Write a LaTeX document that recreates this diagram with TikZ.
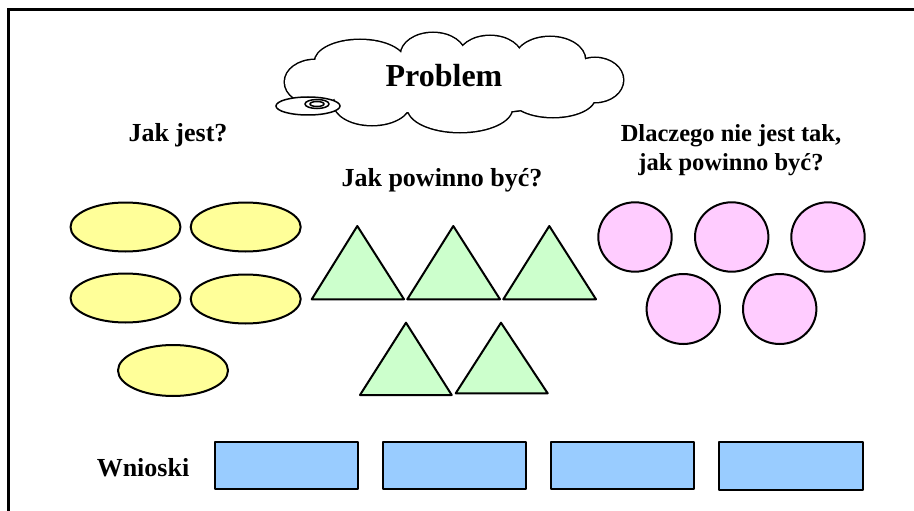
\documentclass[tikz,border=0pt]{standalone}
\usepackage{fontspec}
\setmainfont{Liberation Serif}
\usetikzlibrary{shapes.symbols,shapes.geometric}
\definecolor{ellfill}{HTML}{FFFF99}
\definecolor{trifill}{HTML}{CCFFCC}
\definecolor{circfill}{HTML}{FFCCFF}
\definecolor{recfill}{HTML}{99CCFF}
\tikzset{
  shapeline/.style={draw=black, line width=2pt, line join=round},
  ellshape/.style={shapeline, fill=ellfill},
  trishape/.style={shapeline, fill=trifill},
  circshape/.style={shapeline, fill=circfill},
  recshape/.style={shapeline, fill=recfill},
  lbl/.style={font=\bfseries\fontsize{26}{30}\selectfont, anchor=base, inner sep=0pt},
}
\newcommand{\cloudlobes}{%
  (315,82) ellipse [x radius=30, y radius=22]
  (360,62) ellipse [x radius=45, y radius=22]
  (433,55) ellipse [x radius=32, y radius=22]
  (490,58) ellipse [x radius=32, y radius=22]
  (550,60) ellipse [x radius=35, y radius=23]
  (595,80) ellipse [x radius=28, y radius=22]
  (553,97) ellipse [x radius=42, y radius=20]
  (460,108) ellipse [x radius=52, y radius=24]
  (372,103) ellipse [x radius=38, y radius=22]
  (455,82) ellipse [x radius=135, y radius=32]}
\begin{document}
\begin{tikzpicture}[x=1pt,y=-1pt]
\useasboundingbox (0,0) rectangle (914,511);
% frame
\draw[line width=3pt] (8,511) -- (8,10) -- (914,10);
% cloud (union of lobes)
\draw[line width=3pt] \cloudlobes;
\fill[white] \cloudlobes;
\draw[line width=1.5pt, fill=white] (308,106) ellipse [x radius=32, y radius=9];
\draw[line width=1.5pt] (317,104) ellipse [x radius=12, y radius=4.5];
\draw[line width=1.5pt] (317,104) ellipse [x radius=7, y radius=2.5];
\node[font=\bfseries\fontsize{32}{36}\selectfont, anchor=base, inner sep=0pt] (problem) at (444,87) {Problem};
% labels
\node[lbl] (jakjest) at (178,141.7) {Jak jest?};
\node[lbl] (jakpow) at (442,186.7) {Jak powinno być?};
\node[lbl, font=\bfseries\fontsize{24.5}{28}\selectfont] (dlacz1) at (731,141) {Dlaczego nie jest tak,};
\node[lbl, font=\bfseries\fontsize{24.5}{28}\selectfont] (dlacz2) at (731,170) {jak powinno być?};
\node[lbl] (wnioski) at (143,476.7) {Wnioski};
% ellipses
\draw[ellshape] (125.5,227) ellipse [x radius=55, y radius=24.5];
\draw[ellshape] (245.7,227) ellipse [x radius=55, y radius=24.5];
\draw[ellshape] (125.5,298) ellipse [x radius=55, y radius=24.5];
\draw[ellshape] (245.7,299) ellipse [x radius=55, y radius=24.5];
\draw[ellshape] (173,370.5) ellipse [x radius=55, y radius=25.5];
% triangles
\draw[trishape] (311.7,299.3) -- (357.3,226) -- (404,299.3) -- cycle;
\draw[trishape] (407.3,299.3) -- (453.3,226) -- (500,299.3) -- cycle;
\draw[trishape] (503.3,299.3) -- (549.3,226) -- (596,299.3) -- cycle;
\draw[trishape] (360,395) -- (406,322.7) -- (451.7,395) -- cycle;
\draw[trishape] (455.7,393.3) -- (501,322.7) -- (547.7,393.3) -- cycle;
% circles
\draw[circshape] (635,237) ellipse [x radius=36.7, y radius=34.7];
\draw[circshape] (731.7,237) ellipse [x radius=36.7, y radius=34.7];
\draw[circshape] (828,237) ellipse [x radius=36.7, y radius=34.7];
\draw[circshape] (683.3,309) ellipse [x radius=36.7, y radius=35];
\draw[circshape] (779.7,309) ellipse [x radius=36.7, y radius=35];
% rectangles
\draw[recshape] (215,442.3) rectangle (358.3,489);
\draw[recshape] (382.7,442.3) rectangle (526,489);
\draw[recshape] (551,442.3) rectangle (694.3,489);
\draw[recshape] (719,442.3) rectangle (862.7,490);
\end{tikzpicture}
\end{document}
